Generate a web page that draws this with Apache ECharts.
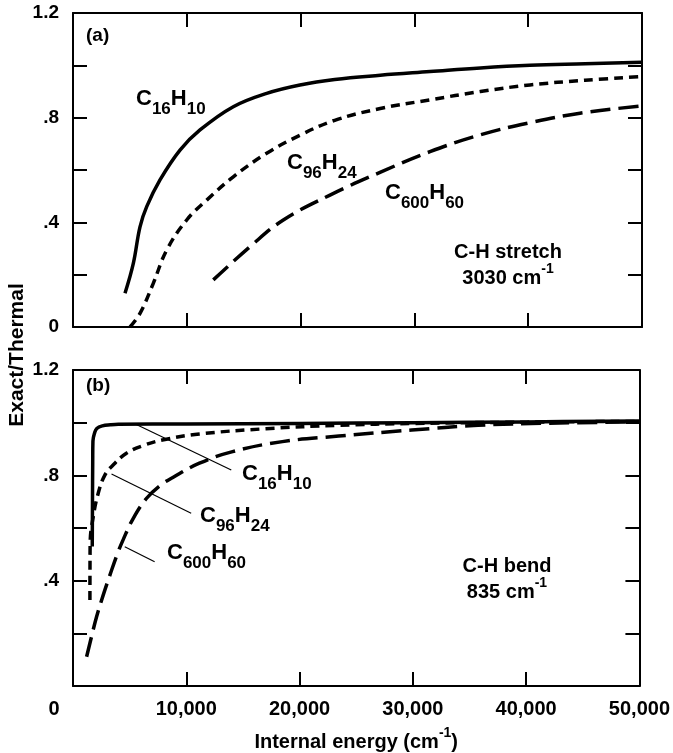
<!DOCTYPE html>
<html><head><meta charset="utf-8">
<script src="https://cdn.jsdelivr.net/npm/echarts@6/dist/echarts.min.js"></script>
<style>html,body{margin:0;padding:0;background:#fff}#c{width:673px;height:753px}</style>
</head><body><div id="c"></div>
<script>
// ---- data ----
const xTickValues = [0, 10000, 20000, 30000, 40000, 50000];
const yTickLabels = ['0', '.4', '.8', '1.2'];
const panelNames = ['(a)', '(b)'];
const modeNames = ['C-H stretch', 'C-H bend'];
const modeFreqs = ['3030', '835'];
// panel (a): C-H stretch 3030 cm-1  [internal energy, exact/thermal]
const stretchC16H10 = [[4569,0.129],[5301,0.243],[5888,0.383],[6477,0.46],[7645,0.562],[9402,0.676],[11160,0.753],[14086,0.842],[17020,0.893],[19947,0.925],[23000,0.946],[27000,0.962],[31370,0.976],[35800,0.99],[40158,1.0],[45000,1.006],[50000,1.012]];
const stretchC96H24 = [[5009,0],[5888,0.052],[7056,0.167],[8234,0.294],[9991,0.409],[11749,0.485],[14086,0.574],[17020,0.664],[19947,0.733],[23000,0.79],[27000,0.835],[31370,0.868],[35800,0.9],[40158,0.925],[45000,0.943],[50000,0.957]];
const stretchC600H60 = [[12329,0.18],[15554,0.307],[18480,0.409],[22583,0.504],[26977,0.591],[31370,0.67],[35764,0.734],[40158,0.781],[44552,0.817],[50000,0.845]];
// panel (b): C-H bend 835 cm-1
const bendC16H10 = [[1700,0.53],[1720,0.7],[1740,0.85],[1760,0.93],[1900,0.96],[2100,0.978],[2600,0.988],[3300,0.992],[4000,0.994],[10000,0.995],[20000,0.997],[30000,1.0],[40000,1.003],[50000,1.006]];
const bendC96H24 = [[1494,0.327],[1500,0.45],[1520,0.55],[1787,0.643],[2227,0.732],[2812,0.801],[3541,0.839],[4716,0.884],[6180,0.913],[8000,0.935],[11160,0.957],[17020,0.977],[23462,0.99],[30000,0.997],[40000,1.002],[50000,1.005]];
const bendC600H60 = [[1201,0.111],[1650,0.19],[2081,0.263],[2666,0.345],[3251,0.42],[3900,0.5],[4422,0.555],[5299,0.635],[6477,0.712],[7645,0.76],[8814,0.792],[11160,0.846],[14086,0.89],[18480,0.928],[23462,0.949],[29904,0.972],[35764,0.99],[42000,0.998],[50000,1.003]];
// leader lines in panel (b)
const leaderC16H10 = [[5500,0.995],[13972,0.82]];
const leaderC96H24 = [[3400,0.805],[10430,0.656]];
const leaderC600H60 = [[4569,0.529],[7206,0.472]];

// ---- chart ----
const FF = '"Liberation Sans", Arial, Helvetica, sans-serif';
const chart = echarts.init(document.getElementById('c'), null, {renderer: 'canvas'});

function fmtX(v) {
  if (v === 0) return '{z|' + xTickValues[0] + '}';
  return String(v).replace(/\B(?=(\d{3})+(?!\d))/g, ',');
}
function fmtY(showZero) {
  return function (v) {
    const k = Math.round(v * 10);
    const map = {0: yTickLabels[0], 4: yTickLabels[1], 8: yTickLabels[2], 12: yTickLabels[3]};
    if (k === 0 && !showZero) return '';
    return map[k] !== undefined ? map[k] : '';
  };
}
function frameLine() { return {show: true, onZero: false, lineStyle: {color: '#000', width: 2}}; }
function tickIn() { return {show: true, inside: true, length: 14, lineStyle: {color: '#000', width: 2}}; }

function xAx(grid, pos, labels) {
  return {
    type: 'value', gridIndex: grid, position: pos, min: 0, max: 50000, interval: 10000,
    axisLine: frameLine(), axisTick: tickIn(), splitLine: {show: false},
    axisLabel: labels ? {
      show: true, margin: 13, color: '#000', fontSize: 20, fontWeight: 'bold', fontFamily: FF,
      formatter: fmtX,
      rich: {z: {fontSize: 20, fontWeight: 'bold', fontFamily: FF, color: '#000', padding: [0, 38, 0, 0]}}
    } : {show: false},
    name: labels ? '{n|Internal energy (cm}{p|-1}{n|)}' : '',
    nameLocation: 'middle', nameGap: 40,
    nameTextStyle: {
      rich: {
        n: {fontSize: 20, fontWeight: 'bold', fontFamily: FF, color: '#000', lineHeight: 26, verticalAlign: 'bottom'},
        p: {fontSize: 14, fontWeight: 'bold', fontFamily: FF, color: '#000', lineHeight: 14, verticalAlign: 'top'}
      }
    }
  };
}
function yAx(grid, pos, labels, showZero) {
  return {
    type: 'value', gridIndex: grid, position: pos, min: 0, max: 1.2, interval: 0.2,
    axisLine: frameLine(), axisTick: tickIn(), splitLine: {show: false},
    axisLabel: labels ? {show: true, margin: 14, color: '#000', fontSize: 19, fontWeight: 'bold', fontFamily: FF, formatter: fmtY(showZero)} : {show: false}
  };
}
function curve(data, axIdx, type) {
  const dash = type === 'solid' ? 'solid' : (type === 'short' ? [9, 6] : [20, 8]);
  return {
    type: 'line', data: data, xAxisIndex: axIdx, yAxisIndex: axIdx, showSymbol: false, symbol: 'none',
    smooth: 0.4, silent: true, animation: false,
    lineStyle: {color: '#000', width: 3.5, type: dash, cap: 'butt', join: 'round'}
  };
}
function leader(data) {
  return {type: 'line', data: data, xAxisIndex: 2, yAxisIndex: 2, showSymbol: false, symbol: 'none', silent: true, animation: false,
    lineStyle: {color: '#000', width: 1.2}};
}
const chemRich = {
  m: {fontSize: 22, fontWeight: 'bold', fontFamily: FF, fill: '#000', lineHeight: 22, verticalAlign: 'top'},
  s: {fontSize: 17, fontWeight: 'bold', fontFamily: FF, fill: '#000', lineHeight: 30, verticalAlign: 'bottom'}
};
const supRich = {
  n: {fontSize: 20, fontWeight: 'bold', fontFamily: FF, fill: '#000', lineHeight: 26, verticalAlign: 'bottom'},
  p: {fontSize: 14, fontWeight: 'bold', fontFamily: FF, fill: '#000', lineHeight: 14, verticalAlign: 'top'}
};
function chem(c, h, x, y) {
  return {type: 'text', x: x, y: y, silent: true,
    style: {text: '{m|C}{s|' + c + '}{m|H}{s|' + h + '}', rich: chemRich, align: 'left', verticalAlign: 'top'}};
}
function modeText(i, x, y) {
  return {type: 'text', x: x, y: y, silent: true,
    style: {text: '{n|' + modeNames[i] + '}\n{n|' + modeFreqs[i] + ' cm}{p|-1}', rich: supRich, align: 'center', verticalAlign: 'top'}};
}
function panelText(i, x, y) {
  return {type: 'text', x: x, y: y, silent: true,
    style: {text: panelNames[i], fontSize: 19, fontWeight: 'bold', fontFamily: FF, fill: '#000', verticalAlign: 'top'}};
}

const option = {
  animation: false,
  backgroundColor: '#fff',
  grid: [
    {left: 73, right: 31, top: 13, height: 314},
    {left: 73, right: 31, top: 370, height: 316}
  ],
  xAxis: [xAx(0, 'bottom', false), xAx(0, 'top', false), xAx(1, 'bottom', true), xAx(1, 'top', false)],
  yAxis: [yAx(0, 'left', true, true), yAx(0, 'right', false), yAx(1, 'left', true, false), yAx(1, 'right', false)],
  series: [
    curve(stretchC16H10, 0, 'solid'),
    curve(stretchC96H24, 0, 'short'),
    curve(stretchC600H60, 0, 'long'),
    curve(bendC16H10, 2, 'solid'),
    curve(bendC96H24, 2, 'short'),
    curve(bendC600H60, 2, 'long'),
    leader(leaderC16H10), leader(leaderC96H24), leader(leaderC600H60)
  ],
  graphic: [
    {type: 'text', x: 17, y: 355, rotation: Math.PI / 2, silent: true,
      style: {text: 'Exact/Thermal', fontSize: 21, fontWeight: 'bold', fontFamily: FF, fill: '#000', align: 'center', verticalAlign: 'middle'}},
    panelText(0, 86, 26), panelText(1, 86, 376),
    chem('16', '10', 136, 88), chem('96', '24', 287, 152), chem('600', '60', 385, 182),
    chem('16', '10', 242, 463), chem('96', '24', 200, 505), chem('600', '60', 167, 542),
    modeText(0, 508, 236), modeText(1, 507, 550)
  ]
};
chart.setOption(option);
</script>
</body></html>
